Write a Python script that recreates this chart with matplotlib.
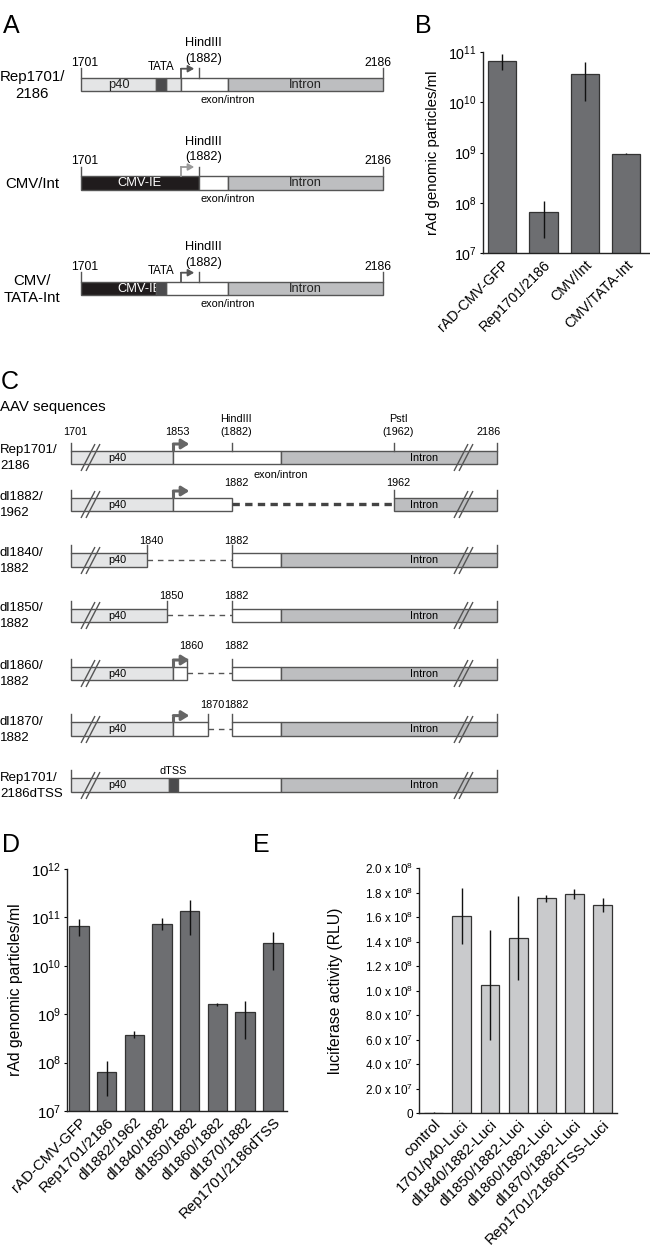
import numpy as np
import matplotlib
matplotlib.use('Agg')
import matplotlib.pyplot as plt
import matplotlib.transforms as mtransforms
from matplotlib.patches import Rectangle
from matplotlib.path import Path
from matplotlib.ticker import FuncFormatter, NullLocator, FixedLocator

plt.rcParams['font.family'] = ['Liberation Sans', 'DejaVu Sans']
plt.rcParams['mathtext.fontset'] = 'custom'
plt.rcParams['mathtext.rm'] = 'Liberation Sans'
plt.rcParams['mathtext.it'] = 'Liberation Sans:italic'

# ---------------- data ----------------
# panel B: rAd genomic particles/ml
b_labels = ['rAD-CMV-GFP', 'Rep1701/2186', 'CMV/Int', 'CMV/TATA-Int']
b_values = [6.7e10, 6.6e7, 3.7e10, 9.6e8]
b_low = [4.3e10, 2.0e7, 1.05e10, 9.3e8]
b_high = [9.3e10, 1.1e8, 6.3e10, 9.9e8]

# panel D: rAd genomic particles/ml
d_labels = ['rAD-CMV-GFP', 'Rep1701/2186', 'dl1882/1962', 'dl1840/1882',
            'dl1850/1882', 'dl1860/1882', 'dl1870/1882', 'Rep1701/2186dTSS']
d_values = [6.6e10, 6.5e7, 3.8e8, 7.4e10, 1.38e11, 1.6e9, 1.1e9, 2.9e10]
d_low = [4.2e10, 2.0e7, 3.2e8, 5.4e10, 4.4e10, 1.5e9, 3.1e8, 8.1e9]
d_high = [9.1e10, 1.07e8, 4.4e8, 9.5e10, 2.3e11, 1.7e9, 1.9e9, 4.9e10]

# panel E: luciferase activity (RLU)
e_labels = ['control', '1701/p40-Luci', 'dl1840/1882-Luci', 'dl1850/1882-Luci',
            'dl1860/1882-Luci', 'dl1870/1882-Luci', 'Rep1701/2186dTSS-Luci']
e_values = [0.0, 1.61e8, 1.05e8, 1.43e8, 1.755e8, 1.79e8, 1.70e8]
e_err = [0.01e8, 0.23e8, 0.45e8, 0.34e8, 0.03e8, 0.04e8, 0.055e8]

# panel A constructs (AAV nucleotide positions)
a_names = ['Rep1701/\n2186', 'CMV/Int', 'CMV/\nTATA-Int']
a_segments = [
    [(1701, 1815, 'p40'), (1815, 1830, 'tata'), (1830, 1853, 'p40'),
     (1853, 1906, 'exon'), (1906, 2186, 'intron')],
    [(1701, 1882, 'cmv'), (1882, 1906, 'exon'), (1906, 2186, 'intron')],
    [(1701, 1815, 'cmv'), (1815, 1830, 'tata'), (1830, 1906, 'exon'),
     (1906, 2186, 'intron')],
]
a_box_text = [
    [(1759, 'p40'), (2046, 'Intron')],
    [(1790, 'CMV-IE'), (2046, 'Intron')],
    [(1790, 'CMV-IE'), (2046, 'Intron')],
]
a_tata = [1822, None, 1822]
a_tss_color = ['#555555', '#9a9a9a', '#555555']

# panel C constructs
c_names = ['Rep1701/\n2186', 'dl1882/\n1962', 'dl1840/\n1882', 'dl1850/\n1882',
           'dl1860/\n1882', 'dl1870/\n1882', 'Rep1701/\n2186dTSS']
c_segments = [
    [(1701, 1853, 'p40'), (1853, 1906, 'exon'), (1906, 2186, 'intron')],
    [(1701, 1853, 'p40'), (1853, 1882, 'exon'), (1882, 1962, 'gap_thick'), (1962, 2186, 'intron')],
    [(1701, 1840, 'p40'), (1840, 1882, 'gap'), (1882, 1906, 'exon'), (1906, 2186, 'intron')],
    [(1701, 1850, 'p40'), (1850, 1882, 'gap'), (1882, 1906, 'exon'), (1906, 2186, 'intron')],
    [(1701, 1853, 'p40'), (1853, 1860, 'exon'), (1860, 1882, 'gap'), (1882, 1906, 'exon'), (1906, 2186, 'intron')],
    [(1701, 1853, 'p40'), (1853, 1870, 'exon'), (1870, 1882, 'gap'), (1882, 1906, 'exon'), (1906, 2186, 'intron')],
    [(1701, 1851, 'p40'), (1851, 1855.5, 'tata'), (1855.5, 1906, 'exon'), (1906, 2186, 'intron')],
]
c_ticks = [[1701, 1882, 1962, 2186], [1701, 1962, 2186], [1701, 1840, 1882, 2186],
           [1701, 1850, 1882, 2186], [1701, 1860, 1882, 2186], [1701, 1870, 1882, 2186],
           [1701, 2186]]
c_marks = [
    [(1701, '1701'), (1853, '1853'), (1882, 'HindIII\n(1882)'), (1962, 'PstI\n(1962)'), (2186, '2186')],
    [(1882, '1882'), (1962, '1962')],
    [(1840, '1840'), (1882, '1882')],
    [(1850, '1850'), (1882, '1882')],
    [(1860, '1860'), (1882, '1882')],
    [(1870, '1870'), (1882, '1882')],
    [(1853, 'dTSS')],
]
c_tss = [True, True, False, False, True, True, False]
c_breaks = [1736, 2112]

# ---------------- layout ----------------
W, H = 650, 1251
fig = plt.figure(figsize=(W / 100, H / 100), dpi=100)

fill = {'p40': '#e4e5e6', 'exon': 'white', 'intron': '#bdbec0',
        'tata': '#4b4b4d', 'cmv': '#201c1d'}
edge = '#555555'


def map_axes(nt_pts, px_pts):
    # full-figure axes whose x scale is the (non-proportional) schematic map
    nt0 = np.asarray(nt_pts, float)
    px0 = np.asarray(px_pts, float)
    s0 = (px0[1] - px0[0]) / (nt0[1] - nt0[0])
    s1 = (px0[-1] - px0[-2]) / (nt0[-1] - nt0[-2])
    nt = np.r_[0, nt0, 10000]
    px = np.r_[px0[0] - nt0[0] * s0, px0, px0[-1] + (10000 - nt0[-1]) * s1]
    fwd = lambda x: np.interp(x, nt, px)
    inv = lambda p: np.interp(p, px, nt)
    ax = fig.add_axes([0, 0, 1, 1])
    ax.set_xscale('function', functions=(fwd, inv))
    ax.set_xlim(inv(0), inv(W))
    ax.set_ylim(H, 0)
    ax.axis('off')
    ax.patch.set_visible(False)
    return ax


# break mark "//" marker
brk = Path([(-9.5, -13.5), (4.5, 13.5), (-4.5, -13.5), (9.5, 13.5)],
           [Path.MOVETO, Path.LINETO, Path.MOVETO, Path.LINETO])

# ---------------- panel A ----------------
axA = map_axes([1701, 1853, 1882, 1906, 2186], [81, 181, 199.3, 228, 383])
ylab = axA.get_yaxis_transform()
a_top = [77.7, 176, 281.7]
a_h = 13.5
axA.text(3 / W, 33, 'A', transform=ylab, fontsize=18, va='baseline', ha='left')
for i, top in enumerate(a_top):
    for s, e, kind in a_segments[i]:
        axA.add_patch(Rectangle((s, top), e - s, a_h, facecolor=fill[kind],
                                edgecolor=edge, lw=1, zorder=2 if kind != 'tata' else 4))
    for xc, t in a_box_text[i]:
        axA.text(xc, top + a_h / 2 + 0.5, t, ha='center', va='center', fontsize=9.3,
                 color='white' if t == 'CMV-IE' else '#222222', zorder=3)
    for x in (1701, 1882, 2186):
        axA.plot([x, x], [top - 9.5, top], color=edge, lw=1)
    for x, t in ((1701, '1701'), (2186, '2186')):
        axA.annotate(t, (x, top - 11.8), xytext=(3 if x == 1701 else -4, 0),
                     textcoords='offset points', ha='center', va='baseline', fontsize=8.8)
    axA.annotate('HindIII\n(1882)', (1882, top - 15.8), xytext=(3, 0),
                 textcoords='offset points', ha='center', va='baseline',
                 fontsize=9.2, linespacing=1.4)
    if a_tata[i] is not None:
        axA.text(a_tata[i], top - 7.5, 'TATA', ha='center', va='baseline', fontsize=8.3)
    axA.plot([1853, 1853], [top, top - 9], color=a_tss_color[i], lw=1.3)
    axA.annotate('', (1853, top - 9), xytext=(9.5, 0), textcoords='offset points',
                 arrowprops=dict(arrowstyle='<|-,head_length=0.35,head_width=0.2',
                                 color=a_tss_color[i], lw=1.3, shrinkA=0, shrinkB=0))
    axA.text(1906, top + a_h + 9, 'exon/intron', ha='center', va='center', fontsize=7.8)
    axA.text(32 / W, top + a_h / 2 + 1, a_names[i], transform=ylab, ha='center',
             va='center', fontsize=10.8, linespacing=1.3, multialignment='center')

# ---------------- panel C ----------------
axC = map_axes([1701, 1840, 1962, 2186], [71, 147, 394, 497])
ylab = axC.get_yaxis_transform()
c_top = [450.7, 497.7, 553.3, 608.7, 666.7, 722.3, 778.3]
c_h = 13.3
c_lab = [15.3, 11.3, 9.8, 9.3, 18, 14, 4]
axC.text(1 / W, 389, 'C', transform=ylab, fontsize=18, va='baseline', ha='left')
axC.text(0, 407, 'AAV sequences', transform=ylab, fontsize=10.8, va='center', ha='left')
for i, top in enumerate(c_top):
    yc = top + c_h / 2
    for s, e, kind in c_segments[i]:
        if kind == 'gap':
            axC.plot([s, e], [yc, yc], color='#555555', lw=1, dashes=(4, 3.5))
        elif kind == 'gap_thick':
            axC.plot([s, e], [yc, yc], color='#444444', lw=2.4, dashes=(2.2, 1.6))
        else:
            axC.add_patch(Rectangle((s, top), e - s, c_h, facecolor=fill[kind],
                                    edgecolor=edge, lw=1, zorder=2))
    axC.text(1785, yc + 0.5, 'p40', ha='center', va='center', fontsize=7.8, zorder=3)
    axC.text(2027, yc + 0.5, 'Intron', ha='center', va='center', fontsize=7.8, zorder=3)
    for x in c_ticks[i]:
        axC.plot([x, x], [top - 8, top], color=edge, lw=1)
    for x, t in c_marks[i]:
        if x == 2186:
            axC.annotate(t, (x, top - c_lab[i]), xytext=(3, 0), textcoords='offset points',
                         ha='right', va='baseline', fontsize=7.8)
        else:
            axC.annotate(t, (x, top - c_lab[i]), xytext=(3 if t != 'dTSS' else 0, 0),
                         textcoords='offset points', ha='center', va='baseline',
                         fontsize=7.8, linespacing=1.45)
    if c_tss[i]:
        axC.plot([1853, 1853], [top, top - 6.7], color='#666666', lw=2.2,
                 solid_capstyle='butt', zorder=3)
        axC.annotate('', (1853, top - 6.7), xytext=(11.5, 0), textcoords='offset points',
                     arrowprops=dict(arrowstyle='<|-,head_length=0.45,head_width=0.28',
                                     color='#666666', lw=2.2, shrinkA=0, shrinkB=0),
                     zorder=3)
    axC.plot(c_breaks, [yc, yc], ls='none', marker=brk, markersize=19.4,
             markeredgecolor='#555555', markeredgewidth=1, zorder=4)
    axC.text(0, yc + 1, c_names[i], transform=ylab, ha='left', va='center',
             fontsize=9.5, linespacing=1.45)
    if i == 0:
        axC.text(1906, top + c_h + 11, 'exon/intron', ha='center', va='center', fontsize=7.8)


# ---------------- bar panels ----------------
def style_axes(ax):
    for side in ('top', 'right'):
        ax.spines[side].set_visible(False)
    for side in ('left', 'bottom'):
        ax.spines[side].set_color('#222222')
        ax.spines[side].set_linewidth(1)
    ax.tick_params(axis='x', length=0, pad=3)
    ax.tick_params(axis='y', length=2.5, width=0.8, direction='out', pad=2)


bar_dark = '#6d6e71'
bar_light = '#c9cacc'

# panel B
fig.text(415 / W, 1 - 33 / H, 'B', fontsize=18, va='baseline', ha='left')
axB = fig.add_axes([483 / W, 1 - 253.3 / H, 167 / W, 201.3 / H])
xb = np.arange(len(b_labels))
axB.bar(xb, b_values, width=0.68, color=bar_dark, edgecolor='#333333', lw=0.9, zorder=2)
axB.errorbar(xb, b_values, yerr=[np.subtract(b_values, b_low), np.subtract(b_high, b_values)],
             fmt='none', ecolor='#111111', elinewidth=1, capsize=0, zorder=3)
axB.set_yscale('log')
axB.set_ylim(1e7, 1e11)
axB.set_xlim(-0.46, 3.57)
axB.yaxis.set_minor_locator(NullLocator())
axB.set_xticks(xb, b_labels, rotation=45, ha='right', rotation_mode='anchor', fontsize=10.3)
axB.tick_params(axis='y', labelsize=10.3)
axB.set_ylabel('rAd genomic particles/ml', fontsize=10.8)
axB.yaxis.set_label_coords(-0.255, 0.5)
style_axes(axB)

# panel D
fig.text(2 / W, 1 - 852 / H, 'D', fontsize=18, va='baseline', ha='left')
axD = fig.add_axes([67.3 / W, 1 - 1111 / H, 219.4 / W, 242 / H])
xd = np.arange(len(d_labels))
axD.bar(xd, d_values, width=0.7, color=bar_dark, edgecolor='#333333', lw=0.9, zorder=2)
axD.errorbar(xd, d_values, yerr=[np.subtract(d_values, d_low), np.subtract(d_high, d_values)],
             fmt='none', ecolor='#111111', elinewidth=1, capsize=0, zorder=3)
axD.set_yscale('log')
axD.set_ylim(1e7, 1e12)
axD.set_xlim(-0.42, 7.5)
axD.yaxis.set_minor_locator(NullLocator())
axD.set_xticks(xd, d_labels, rotation=45, ha='right', rotation_mode='anchor', fontsize=10.8)
axD.tick_params(axis='y', labelsize=10.8)
axD.set_ylabel('rAd genomic particles/ml', fontsize=11.3)
axD.yaxis.set_label_coords(-0.2, 0.5)
style_axes(axD)

# panel E
fig.text(253 / W, 1 - 852 / H, 'E', fontsize=18, va='baseline', ha='left')
axE = fig.add_axes([419.3 / W, 1 - 1113.3 / H, 197.4 / W, 245 / H])
xe = np.arange(len(e_labels))
axE.bar(xe, e_values, width=0.67, color=bar_light, edgecolor='#333333', lw=0.9, zorder=2)
axE.errorbar(xe, e_values, yerr=e_err, fmt='none', ecolor='#111111', elinewidth=1,
             capsize=0, zorder=3)
axE.set_ylim(0, 2e8)
axE.set_xlim(-0.51, 6.5)
axE.yaxis.set_major_locator(FixedLocator(np.arange(0, 2.01e8, 2e7)))


def sci_fmt(v, pos):
    if v == 0:
        return '0'
    e = int(np.floor(np.log10(v) + 1e-9))
    m = v / 10 ** e
    return r'$\mathdefault{%.1f\ x\ 10^{%d}}$' % (m, e)


axE.yaxis.set_major_formatter(FuncFormatter(sci_fmt))
axE.set_xticks(xe, e_labels, rotation=45, ha='right', rotation_mode='anchor', fontsize=10.8)
shift = mtransforms.ScaledTranslation(6 / 100, 0, fig.dpi_scale_trans)
for lab in axE.get_xticklabels():
    lab.set_transform(lab.get_transform() + shift)
axE.tick_params(axis='y', labelsize=8.5)
axE.set_ylabel('luciferase activity (RLU)', fontsize=11.3)
axE.yaxis.set_label_coords(-0.385, 0.5)
style_axes(axE)

fig.savefig('out.png', dpi=100)
